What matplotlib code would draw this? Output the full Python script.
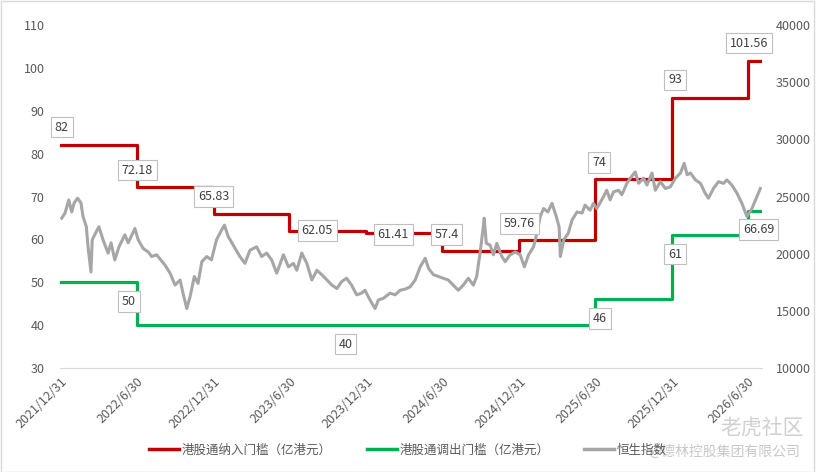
import pandas as pd
import numpy as np
import matplotlib.pyplot as plt
import matplotlib.dates as mdates
from matplotlib.lines import Line2D

plt.rcParams['font.family'] = ['Noto Sans CJK SC', 'DejaVu Sans']

# half-year review dates and thresholds (亿港元)
step_dates = ['2021-12-31', '2022-06-30', '2022-12-31', '2023-06-30', '2023-12-31',
              '2024-06-30', '2024-12-31', '2025-06-30', '2025-12-31', '2026-06-30']
end_date = '2026-08-03'
inclusion = [82, 72.18, 65.83, 62.05, 61.41, 57.4, 59.76, 74, 93, 101.56]
exclusion = [50, 40, 40, 40, 40, 40, 40, 46, 61, 66.69]

# Hang Seng index (days since 2021-12-31)
hsi_day = [2, 10, 19, 26, 32, 40, 48, 53, 61, 65, 72, 75, 83, 91, 101, 113, 120, 129,
           139, 153, 161, 177, 185, 197, 209, 217, 229, 239, 249, 261, 273, 285, 293,
           301, 309, 319, 328, 337, 349, 360, 372, 384, 391, 400, 412, 428, 440, 452,
           468, 480, 492, 504, 516, 532, 544, 556, 564, 576, 588, 600, 612, 624, 636,
           648, 660, 671, 683, 695, 707, 719, 727, 739, 751, 759, 771, 787, 799, 811,
           823, 835, 847, 859, 871, 879, 891, 903, 914, 926, 938, 950, 962, 974, 986,
           994, 1002, 1008, 1012, 1017, 1026, 1034, 1042, 1054, 1062, 1074, 1086, 1098,
           1108, 1118, 1130, 1138, 1146, 1154, 1164, 1174, 1183, 1191, 1194, 1202, 1213,
           1222, 1234, 1246, 1253, 1265, 1273, 1281, 1293, 1305, 1313, 1321, 1333, 1341,
           1353, 1361, 1373, 1381, 1393, 1401, 1413, 1421, 1433, 1445, 1457, 1469, 1481,
           1490, 1497, 1505, 1517, 1529, 1540, 1548, 1560, 1572, 1584, 1592, 1604, 1616,
           1628, 1640, 1652, 1664, 1672]
hsi = [23100, 23550, 24700, 23650, 24450, 24850, 24450, 23250, 22350, 20600, 18400,
       21200, 21800, 22350, 21200, 20050, 20950, 19450, 20600, 21650, 20950, 22200,
       21200, 20450, 20150, 19750, 19900, 19450, 19000, 18300, 17250, 17700, 16400,
       15200, 16250, 18000, 17400, 19300, 19750, 19450, 21200, 22050, 22500, 21500,
       20750, 19750, 19150, 20300, 20600, 19750, 20050, 19450, 18300, 19900, 18850,
       19150, 18550, 20050, 19150, 17700, 18550, 18150, 17700, 17250, 16950, 17550,
       17850, 17250, 16400, 16550, 16800, 15950, 15200, 15950, 16100, 16550, 16400,
       16800, 16900, 17100, 17700, 18850, 19600, 18700, 18150, 18000, 17850, 17700,
       17250, 16800, 17250, 17850, 17250, 18000, 20050, 21800, 23100, 20900, 20750,
       19900, 20900, 19750, 19300, 19900, 20150, 19900, 18850, 19900, 20600, 21800,
       23250, 23950, 23650, 24400, 23400, 22350, 19750, 21200, 21800, 22950, 23650,
       23550, 24250, 23800, 24400, 23950, 24700, 25550, 24700, 25400, 25550, 25150,
       26150, 26600, 27150, 26150, 26600, 26000, 27050, 25550, 26300, 25700, 25850,
       26600, 27050, 27900, 26900, 27050, 26450, 26150, 25300, 24850, 25700, 26300,
       26150, 26450, 26000, 25300, 24400, 23250, 23950, 25000, 25700]

red = '#C00000'
green = '#00B050'
grey = '#A6A6A6'
txt = '#595959'

base = pd.Timestamp('2021-12-31')
hsi_dates = base + pd.to_timedelta(hsi_day, unit='D')
sd = pd.to_datetime(step_dates + [end_date])
sd_num = mdates.date2num(sd.to_pydatetime())

fig = plt.figure(figsize=(8.16, 4.72), dpi=100)
ax = fig.add_axes([60 / 816, 1 - 368 / 472, 702 / 816, 343 / 472])
ax2 = ax.twinx()

ax.step(sd, inclusion + [inclusion[-1]], where='post', color=red, lw=2.3)
ax.step(sd, exclusion + [exclusion[-1]], where='post', color=green, lw=2.3)
ax2.plot(hsi_dates, hsi, color=grey, lw=2.2)

ax.set_ylim(30, 110)
ax.set_yticks(range(30, 111, 10))
ax2.set_ylim(10000, 40000)
ax2.set_yticks(range(10000, 40001, 5000))
ax.set_xlim(base - pd.Timedelta(days=2), pd.Timestamp(end_date))

tick_dates = pd.to_datetime(step_dates)
ax.set_xticks(tick_dates)
ax.set_xticklabels([f'{d.year}/{d.month}/{d.day}' for d in tick_dates],
                   rotation=45, ha='right', va='top', rotation_mode='anchor')

for a in (ax, ax2):
    for s in a.spines.values():
        s.set_visible(False)
    a.tick_params(length=0, labelsize=9, labelcolor=txt)
ax.spines['bottom'].set_visible(True)
ax.spines['bottom'].set_color('#D9D9D9')
ax.tick_params(axis='y', pad=11)
ax.tick_params(axis='x', pad=5)
ax2.tick_params(axis='y', pad=10)

# data labels (offsets in pixels from the start of each step, +y is up)
red_off = [(1, 18), (1, 17), (0, 18), (28, 0), (27, -1), (4, 16), (0, 17),
           (4, 17), (3, 18), (1, 18)]
green_idx = [0, 1, 7, 8, 9]
green_off = [(68, -19), (209, -19), (5, -19), (3, -19), (11, -19)]
box = dict(boxstyle='square,pad=0.3', fc='white', ec='#BFBFBF', lw=0.8)
for i, v in enumerate(inclusion):
    ax2.annotate(f'{v:g}', xy=(sd_num[i], v), xycoords=ax.transData,
                 xytext=red_off[i], textcoords='offset pixels',
                 ha='center', va='center', fontsize=9, color='#404040', bbox=box)
for k, i in enumerate(green_idx):
    v = exclusion[i]
    ax2.annotate(f'{v:g}', xy=(sd_num[i], v), xycoords=ax.transData,
                 xytext=green_off[k], textcoords='offset pixels',
                 ha='center', va='center', fontsize=9, color='#404040', bbox=box)

handles = [Line2D([], [], color=red, lw=2.5),
           Line2D([], [], color=green, lw=2.5),
           Line2D([], [], color=grey, lw=2.5)]
fig.legend(handles, ['港股通纳入门槛（亿港元）', '港股通调出门槛（亿港元）', '恒生指数'],
           loc='center', bbox_to_anchor=(0.5, 1 - 450 / 472), ncol=3, frameon=False,
           fontsize=9, handlelength=2.4, handletextpad=0.2, columnspacing=2.8,
           labelcolor=txt)

# watermark
fig.text(720 / 816, 1 - 428 / 472, '老虎社区', fontsize=15, color='#D0D0D0',
         ha='left', va='center')
fig.text(648 / 816, 1 - 452 / 472, '@德林控股集团有限公司', fontsize=10,
         color='#C8C8C8', ha='left', va='center')

fig.patches.append(plt.Rectangle((0.001, 0.001), 0.997, 0.997, transform=fig.transFigure,
                                 fill=False, ec='#D9D9D9', lw=1))

fig.savefig('out.png', dpi=100)
